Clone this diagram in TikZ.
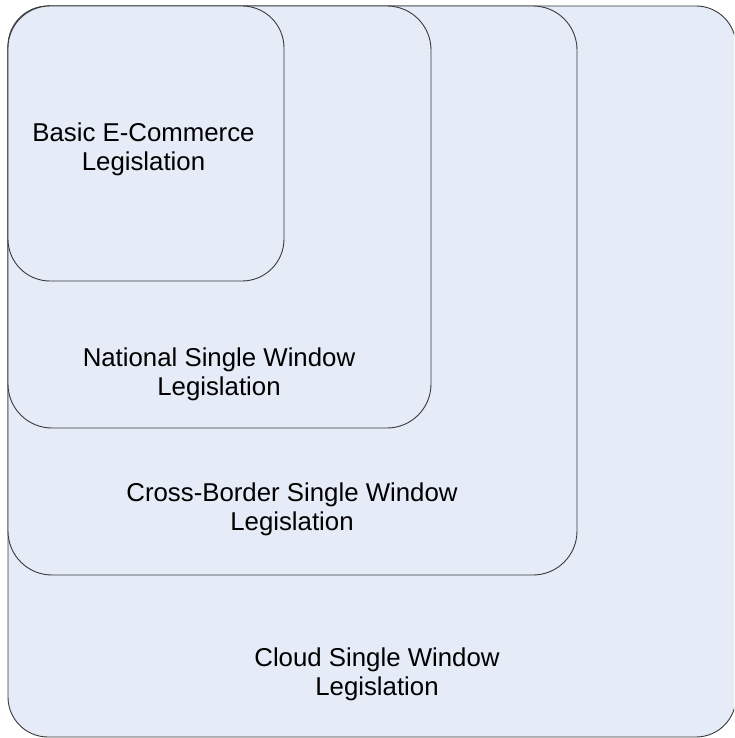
\documentclass[tikz,border=0pt]{standalone}
\usepackage{fontspec}
\setmainfont{Liberation Sans}
\definecolor{boxfill}{HTML}{E5EBF7}
\definecolor{boxline}{HTML}{3A3A3A}
\tikzset{
  layer/.style={draw=boxline, fill=boxfill, line width=0.9pt},
  lbl/.style={align=center, anchor=north, font=\fontsize{25.8}{29}\selectfont, inner sep=0pt, text=black}
}
\begin{document}
\begin{tikzpicture}[x=1pt,y=-1pt]
\useasboundingbox (0,0) rectangle (734,738);
\clip (0,0) rectangle (734,738);
\fill[white] (0,0) rectangle (734,738);
\draw[layer, rounded corners=40pt] (8,6) rectangle (736,737);
\draw[layer, rounded corners=44pt] (8,6) rectangle (577,575);
\draw[layer, rounded corners=44pt] (8,6) rectangle (431,428);
\draw[layer, rounded corners=42pt] (8,6) rectangle (284,281);
\node[lbl] (basic) at (143.5,123) {Basic E-Commerce\\Legislation};
\node[lbl] (national) at (219,348) {National Single Window\\Legislation};
\node[lbl] (cross) at (292,483) {Cross-Border Single Window\\Legislation};
\node[lbl] (cloud) at (377,648) {Cloud Single Window\\Legislation};
\end{tikzpicture}
\end{document}
